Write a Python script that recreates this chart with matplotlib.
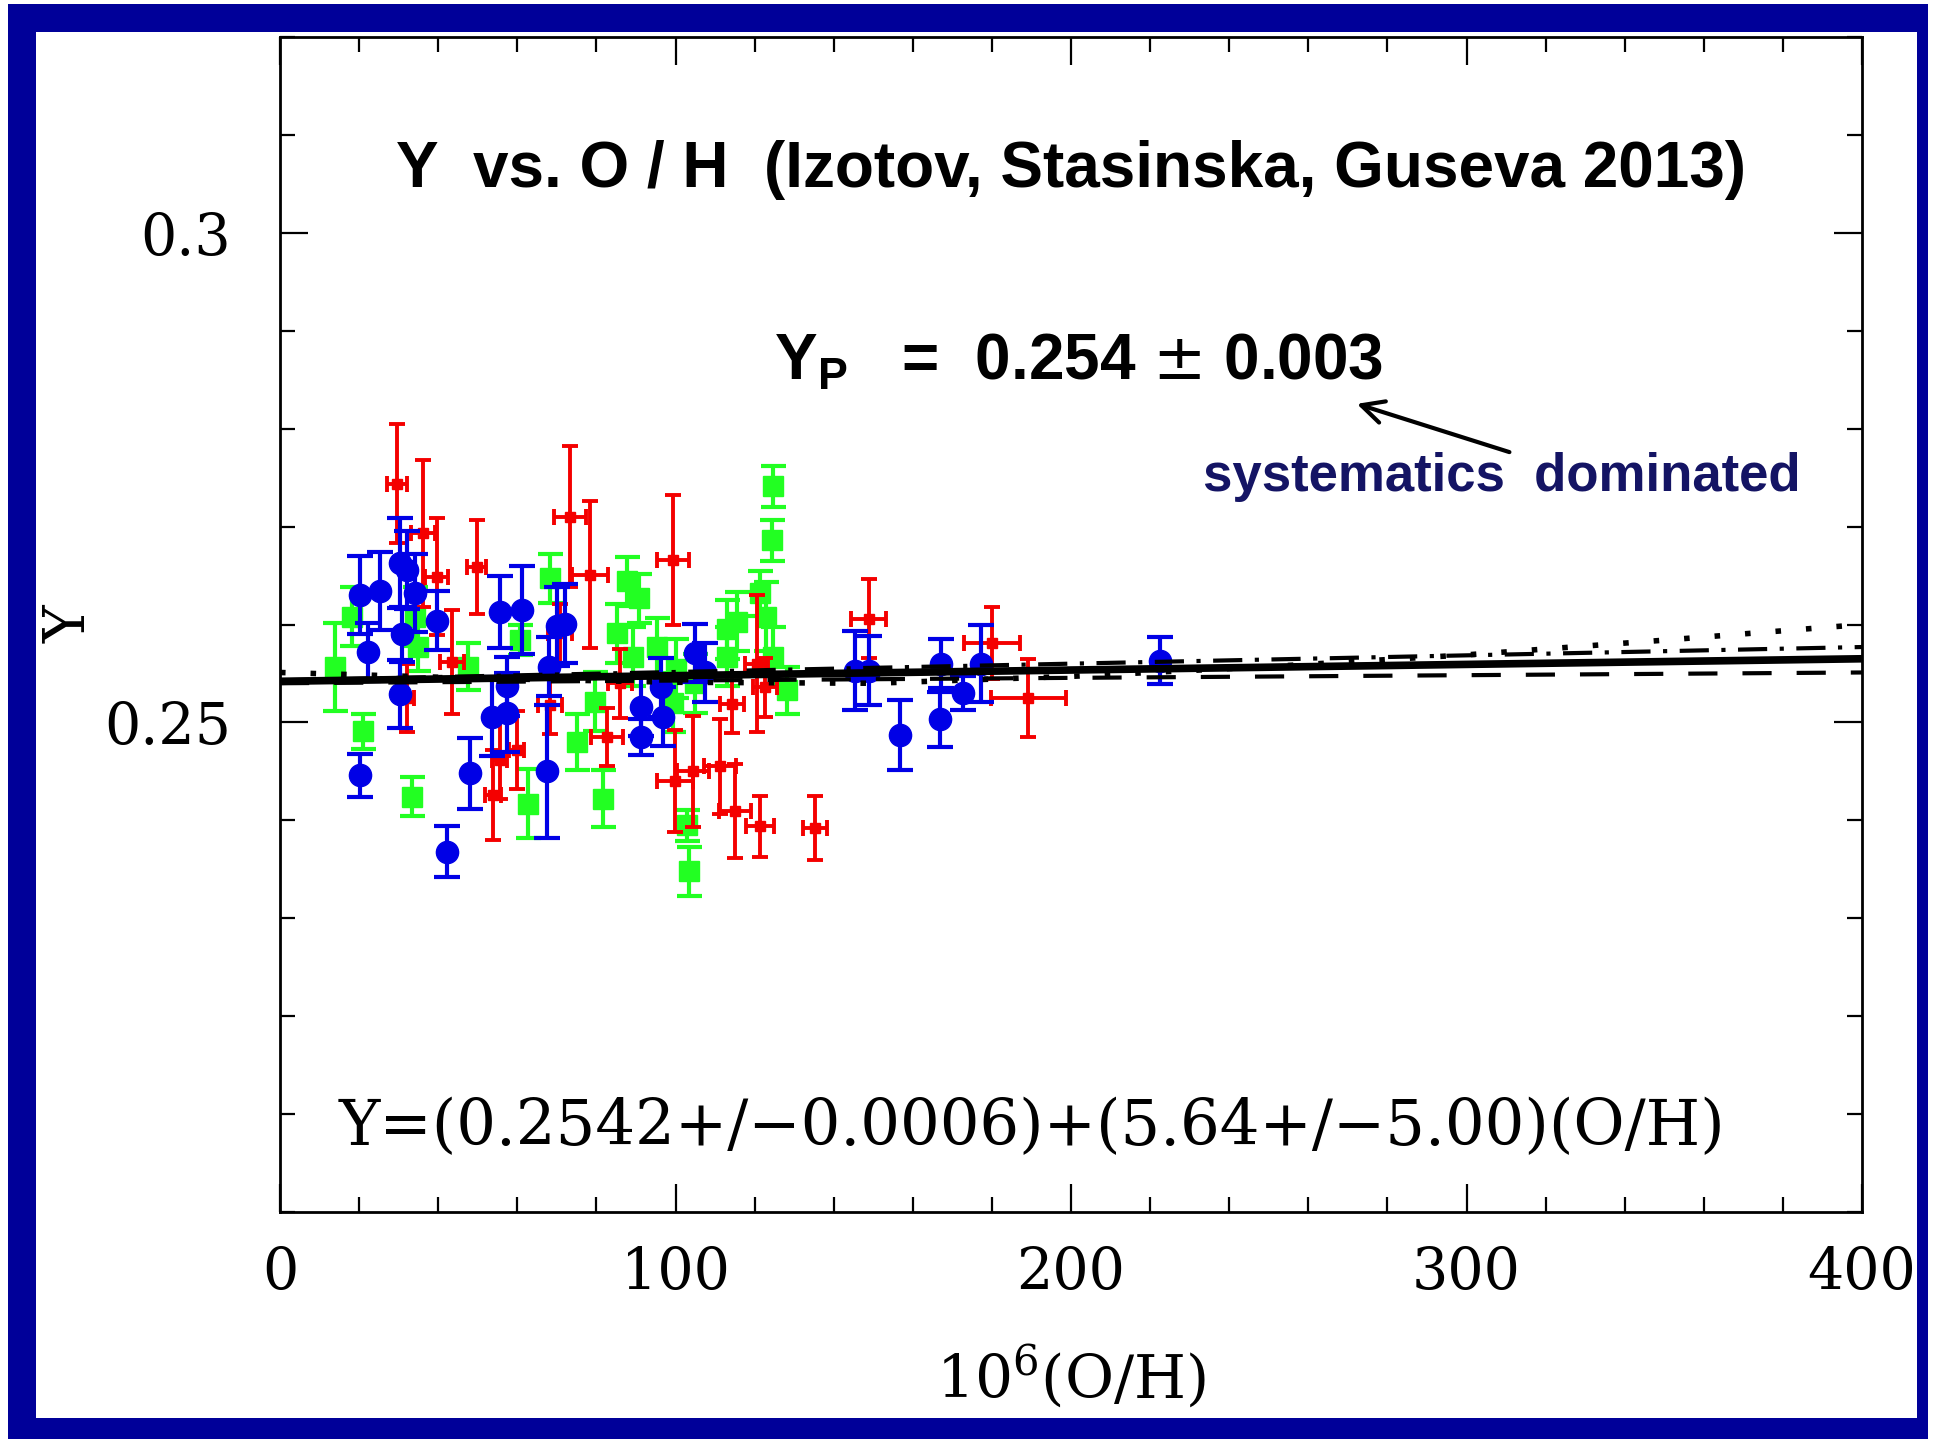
import matplotlib
matplotlib.use("Agg")
import matplotlib.pyplot as plt
from matplotlib.patches import Rectangle
from matplotlib.ticker import MultipleLocator

plt.rcParams['mathtext.fontset'] = 'custom'
plt.rcParams['mathtext.rm'] = 'DejaVu Serif'
plt.rcParams['mathtext.bf'] = 'Liberation Sans:bold'

# --- data ---
blue_x = [20.3, 22.3, 20.2, 25.3, 30.3, 32.0, 34.1, 30.8, 30.3, 39.6, 42.1, 48.0,
          55.6, 53.5, 57.3, 57.5, 61.1, 67.4, 68.0, 70.0, 72.0, 91.4, 91.4, 96.9,
          96.4, 104.9, 107.5, 145.4, 148.8, 156.8, 166.9, 167.2, 172.7, 177.3, 222.5]
blue_y = [0.2630, 0.2572, 0.2446, 0.2634, 0.2663, 0.2656, 0.2632, 0.2590, 0.2529, 0.2604, 0.2368, 0.2448,
          0.2613, 0.2506, 0.2510, 0.2537, 0.2615, 0.2450, 0.2557, 0.2598, 0.2601, 0.2516, 0.2485, 0.2506,
          0.2536, 0.2571, 0.2551, 0.2553, 0.2553, 0.2487, 0.2503, 0.2560, 0.2530, 0.2560, 0.2563]
blue_err = [0.0040, 0.0030, 0.0022, 0.0040, 0.0046, 0.0040, 0.0040, 0.0028, 0.0035, 0.0030, 0.0026, 0.0036,
            0.0037, 0.0040, 0.0040, 0.0030, 0.0045, 0.0068, 0.0030, 0.0040, 0.0040, 0.0030, 0.0018, 0.0030,
            0.0030, 0.0030, 0.0030, 0.0040, 0.0035, 0.0036, 0.0028, 0.0025, 0.0017, 0.0039, 0.0024]

red_x = [29.5, 36.2, 39.6, 43.4, 49.7, 73.3, 78.4, 99.4, 148.8, 180.0, 189.2, 135.3, 121.4, 115.0,
         111.2, 104.5, 99.9, 53.9, 55.5, 59.8, 82.6, 32.0, 120.5, 114.2, 122.6, 68.3, 70.8, 86.0]
red_y = [0.2744, 0.2693, 0.2649, 0.2562, 0.2659, 0.2710, 0.2651, 0.2666, 0.2606, 0.2581, 0.2525, 0.2392, 0.2394, 0.2410,
         0.2455, 0.2450, 0.2440, 0.2426, 0.2462, 0.2472, 0.2485, 0.2525, 0.2560, 0.2519, 0.2536, 0.2518, 0.2591, 0.2540]
red_yerr = [0.0061, 0.0075, 0.0060, 0.0053, 0.0048, 0.0072, 0.0075, 0.0066, 0.0040, 0.0037, 0.0040, 0.0033, 0.0031, 0.0048,
            0.0049, 0.0057, 0.0052, 0.0046, 0.0040, 0.0040, 0.0030, 0.0035, 0.0070, 0.0030, 0.0030, 0.0030, 0.0030, 0.0035]
red_xerr = [2.5, 3, 3, 3, 2.5, 4, 4.5, 4, 4.5, 7, 9.5, 3, 3.5, 4,
            4, 4, 4.5, 2, 2, 2, 4, 2, 3, 3, 3, 3, 3, 3]

green_x = [14.0, 18.1, 21.1, 33.3, 35.0, 34.1, 47.6, 62.8, 68.3, 75.0, 81.7, 87.7, 90.8, 85.1, 89.3, 60.7,
           79.6, 102.8, 103.3, 124.7, 124.3, 121.4, 115.5, 113.0, 123.0, 124.7, 128.1, 113.0, 95.2, 99.4, 100.0, 105.0]
green_y = [0.2557, 0.2608, 0.2491, 0.2424, 0.2577, 0.2608, 0.2557, 0.2417, 0.2647, 0.2480, 0.2422, 0.2644, 0.2627, 0.2591, 0.2567, 0.2584,
           0.2521, 0.2395, 0.2348, 0.2741, 0.2686, 0.2632, 0.2603, 0.2595, 0.2608, 0.2567, 0.2533, 0.2567, 0.2577, 0.2520, 0.2555, 0.2540]
green_err = [0.0045, 0.0030, 0.0018, 0.0020, 0.0024, 0.0030, 0.0024, 0.0035, 0.0025, 0.0029, 0.0029, 0.0025, 0.0025, 0.0030, 0.0030, 0.0015,
             0.0030, 0.0016, 0.0025, 0.0021, 0.0021, 0.0023, 0.0030, 0.0030, 0.0035, 0.0030, 0.0024, 0.0030, 0.0030, 0.0030, 0.0030, 0.0030]

# fit lines (end points / read points)
fit_x = [0, 400]
fit_y = [0.2542, 0.2565]
dash_lo_y = [0.2540, 0.2551]
dash_hi_y = [0.2543, 0.2577]
dot_x = [0, 50, 100, 150, 200, 250, 300, 350, 400]
dot_y = [0.2551, 0.2545, 0.2541, 0.2540, 0.2547, 0.2557, 0.2569, 0.2584, 0.2600]

x_ticks = [0, 100, 200, 300, 400]
y_ticks = [0.25, 0.30]
y_ticklabels = ['0.25', '0.3']

FRAME = '#000099'
BLUE = '#0000e6'
RED = '#f40000'
GREEN = '#22ff22'

fig = plt.figure(figsize=(19.35, 14.39), dpi=100)
W, H = 1935, 1439

# blue slide frame
fig.add_artist(Rectangle((8 / W, 0), 1920 / W, 1435 / H, transform=fig.transFigure,
                         facecolor=FRAME, edgecolor='none', zorder=0))
fig.add_artist(Rectangle((36 / W, 21 / H), 1881 / W, 1386 / H, transform=fig.transFigure,
                         facecolor='white', edgecolor='none', zorder=0))

ax = fig.add_axes([280 / W, 1 - 1212 / H, 1582 / W, 1175 / H])
ax.set_facecolor('none')

ax.errorbar(green_x, green_y, yerr=green_err, fmt='s', color=GREEN, ms=14,
            elinewidth=3, capsize=9, capthick=3, zorder=3)
ax.errorbar(red_x, red_y, yerr=red_yerr, xerr=red_xerr, fmt='s', color=RED, ms=7,
            elinewidth=2.8, capsize=5.5, capthick=2.8, zorder=4)
ax.errorbar(blue_x, blue_y, yerr=blue_err, fmt='o', color=BLUE, ms=16,
            elinewidth=3, capsize=9.5, capthick=3, zorder=5)

ax.plot(fit_x, dash_lo_y, color='black', lw=3, dashes=(7, 6), zorder=6)
ax.plot(fit_x, dash_hi_y, color='black', lw=3, dashes=(7, 3, 1, 3), zorder=6)
ax.plot(dot_x, dot_y, color='black', lw=4, dashes=(1, 4.5), zorder=6)
ax.plot(fit_x, fit_y, color='black', lw=5.5, zorder=7)

ax.set_xlim(0, 400)
ax.set_ylim(0.20, 0.32)
ax.set_xticks(x_ticks)
ax.set_yticks(y_ticks)
ax.set_yticklabels(y_ticklabels)
ax.xaxis.set_minor_locator(MultipleLocator(20))
ax.yaxis.set_minor_locator(MultipleLocator(0.01))
ax.tick_params(which='both', direction='in', top=True, right=True, width=1.6)
ax.tick_params(which='major', length=20)
ax.tick_params(which='minor', length=11)
ax.tick_params(axis='x', which='major', pad=24, labelsize=41, labelfontfamily='DejaVu Serif')
ax.tick_params(axis='y', which='major', pad=35, labelsize=41, labelfontfamily='DejaVu Serif')
for s in ax.spines.values():
    s.set_linewidth(2)

ax.set_xlabel(r'10$^{\mathrm{6}}$(O/H)', fontsize=43, family='DejaVu Serif')
ax.xaxis.set_label_coords(0.5, -0.112)
ax.set_ylabel('Y', fontsize=41, family='DejaVu Serif')
ax.yaxis.set_label_coords(-0.115, 0.5)

ax.text(0.5, 0.872, 'Y  vs. O / H  (Izotov, Stasinska, Guseva 2013)', transform=ax.transAxes,
        ha='center', va='baseline', fontsize=46, fontweight='bold', family='Liberation Sans')
ax.text(0.312, 0.708, r'$\mathbf{Y_P}$   =  0.254 $\pm$ 0.003', transform=ax.transAxes,
        ha='left', va='baseline', fontsize=46, fontweight='bold', family='Liberation Sans')
ax.text(0.5834, 0.6136, 'systematics  dominated', transform=ax.transAxes,
        ha='left', va='baseline', fontsize=38, fontweight='bold', family='Liberation Sans',
        color='#141464')
ax.annotate('', xy=(0.679, 0.6885), xytext=(0.7788, 0.646), xycoords='axes fraction',
            arrowprops=dict(arrowstyle='->', lw=3, color='black', mutation_scale=40))
ax.text(0.0373, 0.057, 'Y=(0.2542+/\u22120.0006)+(5.64+/\u22125.00)(O/H)', transform=ax.transAxes,
        ha='left', va='baseline', fontsize=45, family='DejaVu Serif')

fig.savefig('out.png', dpi=100)
